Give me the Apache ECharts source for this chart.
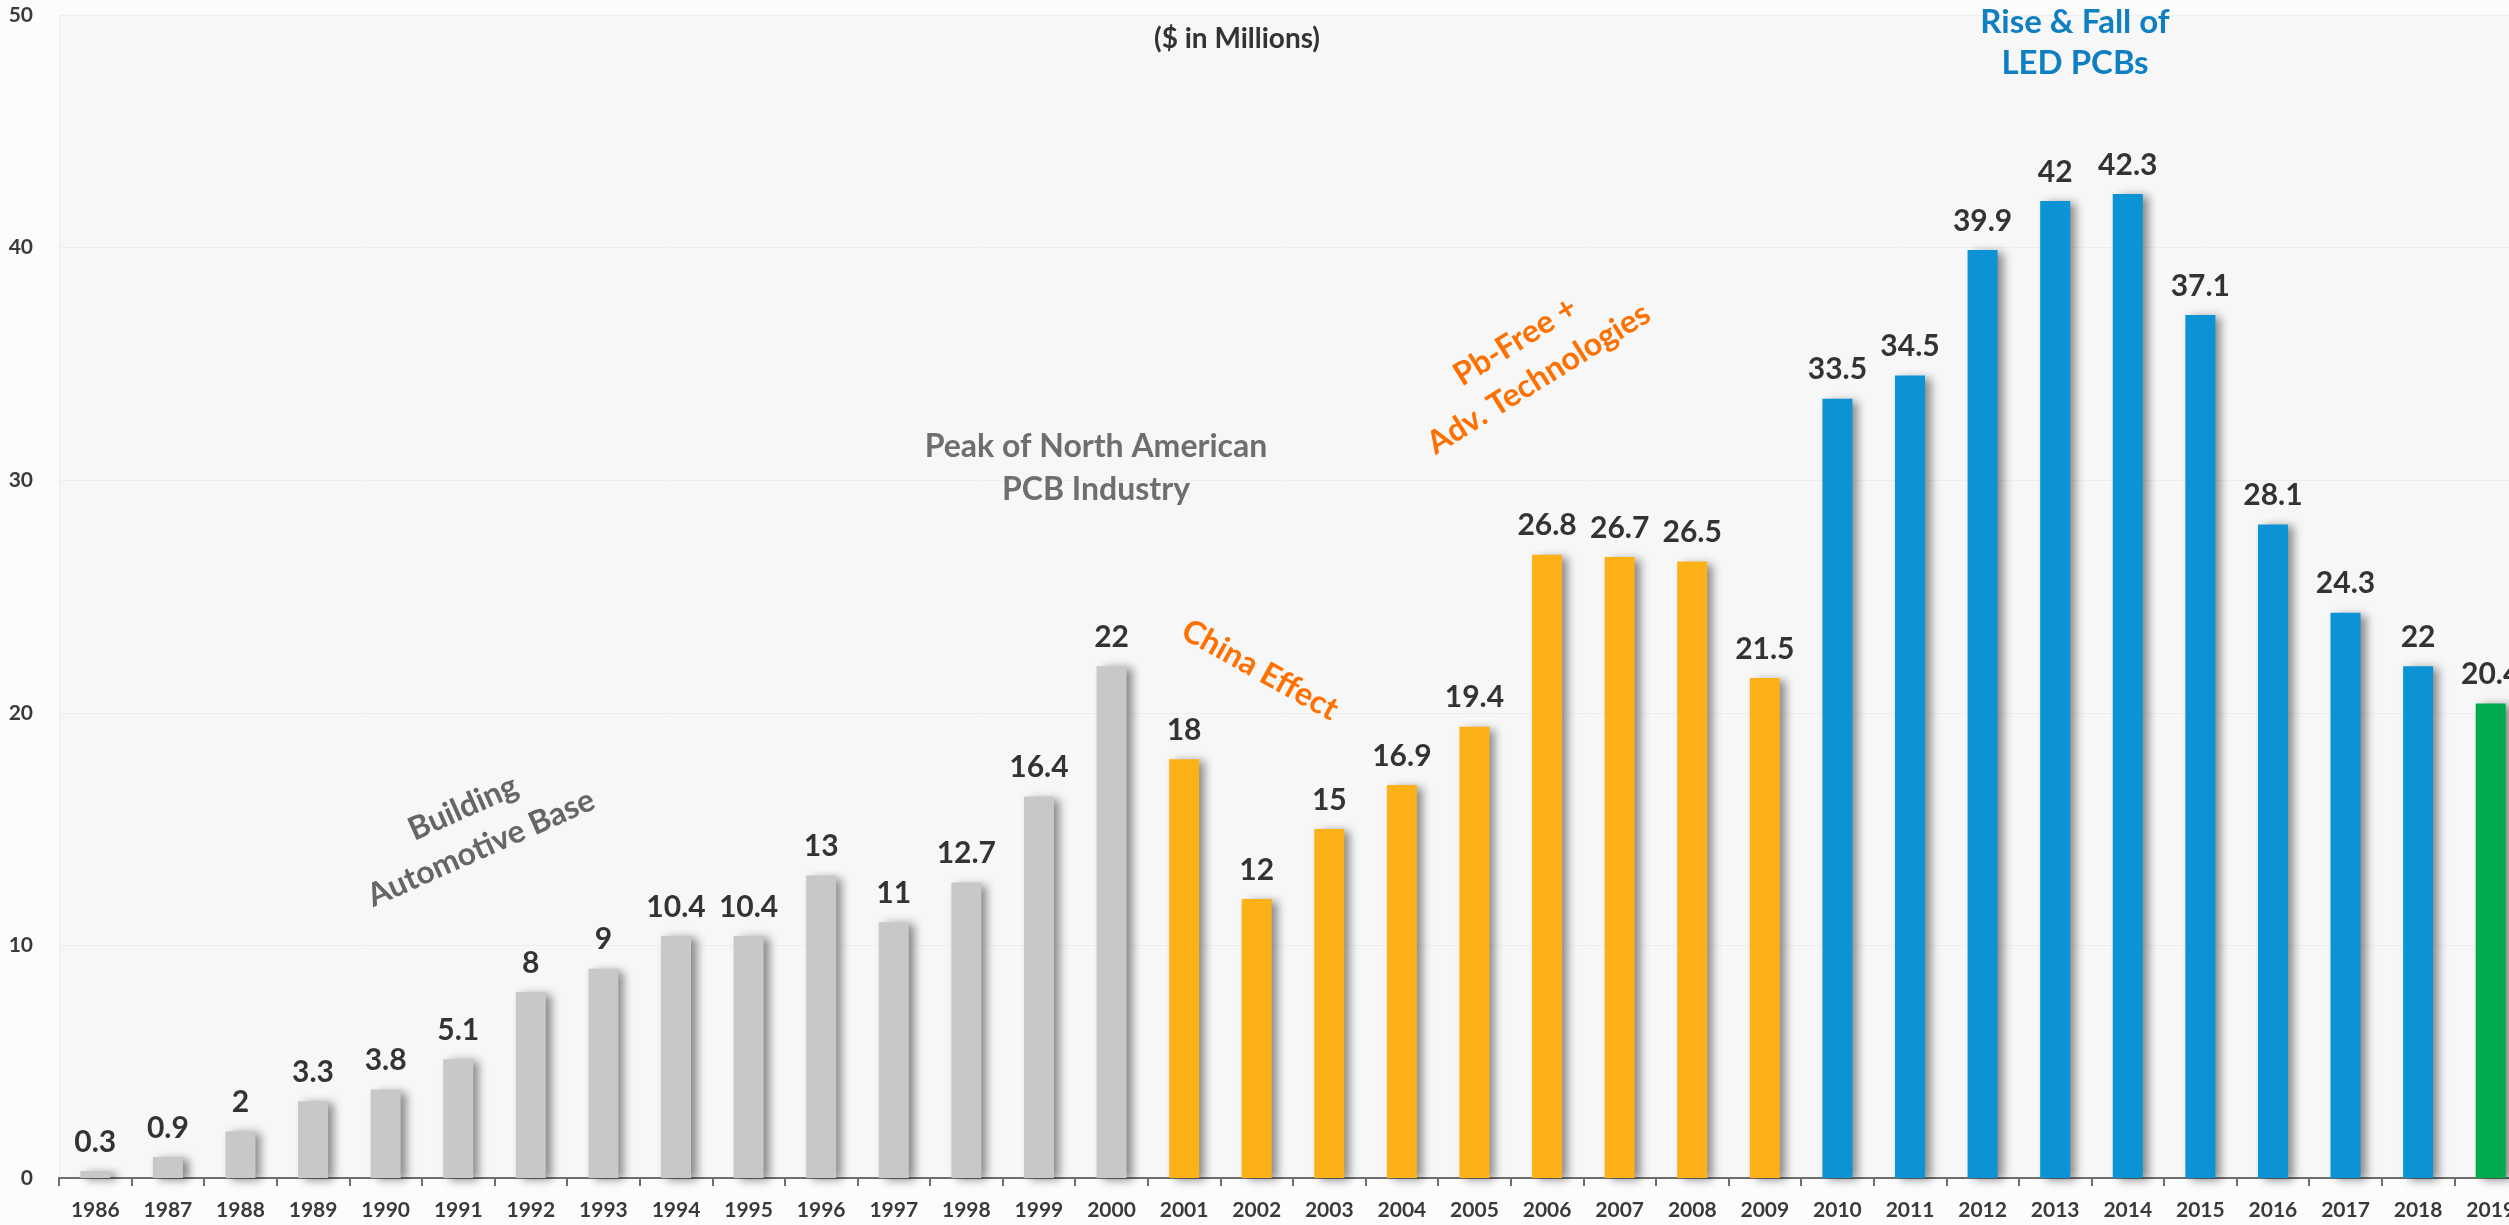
<!DOCTYPE html>
<html>
<head>
<meta charset="utf-8">
<script src="https://cdn.jsdelivr.net/npm/echarts@6/dist/echarts.min.js"></script>
<style>
  html, body { margin: 0; padding: 0; background: #FCFCFC; }
  #chart { width: 2509px; height: 1225px; }
</style>
</head>
<body>
<div id="chart"></div>
<script>
// ---- data ----
const years = ['1986','1987','1988','1989','1990','1991','1992','1993','1994','1995','1996','1997','1998','1999','2000',
  '2001','2002','2003','2004','2005','2006','2007','2008','2009',
  '2010','2011','2012','2013','2014','2015','2016','2017','2018','2019'];
const values = [0.3, 0.9, 2, 3.3, 3.8, 5.1, 8, 9, 10.4, 10.4, 13, 11, 12.7, 16.4, 22,
  18, 12, 15, 16.9, 19.4, 26.8, 26.7, 26.5, 21.5,
  33.5, 34.5, 39.9, 42, 42.3, 37.1, 28.1, 24.3, 22, 20.4];
// era of each bar
const eras = ['base','base','base','base','base','base','base','base','base','base','base','base','base','base','base',
  'china','china','china','china','china','china','china','china','china',
  'led','led','led','led','led','led','led','led','led','now'];
const eraColors = { base: '#C8C8C8', china: '#FBB117', led: '#0B93D5', now: '#00AB4E' };
const yTicks = [0, 10, 20, 30, 40, 50];

const FONT = 'Lato, "Open Sans", sans-serif';

const chart = echarts.init(document.getElementById('chart'), null, { renderer: 'canvas' });

const barData = values.map((v, i) => ({
  value: v,
  itemStyle: { color: eraColors[eras[i]] }
}));

function txt(text, x, y, color, rotDeg, size, lh) {
  return {
    type: 'text',
    x: x, y: y,
    rotation: (rotDeg || 0) * Math.PI / 180,
    z: 100,
    style: {
      text: text,
      x: 0, y: 0,
      align: 'center',
      verticalAlign: 'middle',
      fill: color,
      font: 'bold ' + (size || 28) + 'px ' + FONT,
      lineHeight: lh || 42
    }
  };
}

chart.setOption({
  animation: false,
  backgroundColor: '#FCFCFC',
  grid: {
    left: 59, top: 15, width: 2468, height: 1163,
    outerBoundsMode: 'none',
    containLabel: false,
    show: true, backgroundColor: '#F7F7F7', borderWidth: 0
  },
  xAxis: {
    type: 'category',
    data: years,
    boundaryGap: true,
    axisLine: { show: true, lineStyle: { color: '#6E6E6E', width: 2 } },
    axisTick: { show: true, length: 8, lineStyle: { color: '#6E6E6E', width: 2 } },
    axisLabel: {
      interval: 0, margin: 22,
      color: '#3A3A3A', fontFamily: FONT, fontWeight: 'bold', fontSize: 21
    },
    splitLine: { show: false }
  },
  yAxis: {
    type: 'value',
    min: yTicks[0], max: yTicks[yTicks.length - 1], interval: 10,
    axisLine: { show: true, lineStyle: { color: '#EAEAEA', width: 1 } },
    axisTick: { show: false },
    axisLabel: {
      margin: 26,
      color: '#3A3A3A', fontFamily: FONT, fontWeight: 'bold', fontSize: 21
    },
    splitLine: { show: true, lineStyle: { color: '#EEEEEE', width: 1 } }
  },
  series: [{
    type: 'bar',
    data: barData,
    barWidth: 30,
    itemStyle: {
      shadowColor: 'rgba(0,0,0,0.45)',
      shadowBlur: 9,
      shadowOffsetX: 6,
      shadowOffsetY: 2
    },
    label: {
      show: true,
      position: 'top',
      distance: 14,
      color: '#333333',
      fontFamily: FONT,
      fontWeight: 'bold',
      fontSize: 30,
      lineHeight: 30
    }
  }],
  graphic: [
    txt('($ in Millions)', 1237, 39, '#333333', 0, 28),
    txt('Rise & Fall of\nLED PCBs', 2075, 43, '#0F7FC1', 0, 33, 41),
    txt('Peak of North American\nPCB Industry', 1096, 468, '#6E6E6E', 0, 32, 43),
    txt('Pb-Free +\nAdv. Technologies', 1527, 360, '#FF7000', 32, 32, 44),
    txt('China Effect', 1260, 670, '#FF7000', -29, 32),
    txt('Building\nAutomotive Base', 472, 828, '#666666', 24, 32, 44)
  ]
});
</script>
</body>
</html>
